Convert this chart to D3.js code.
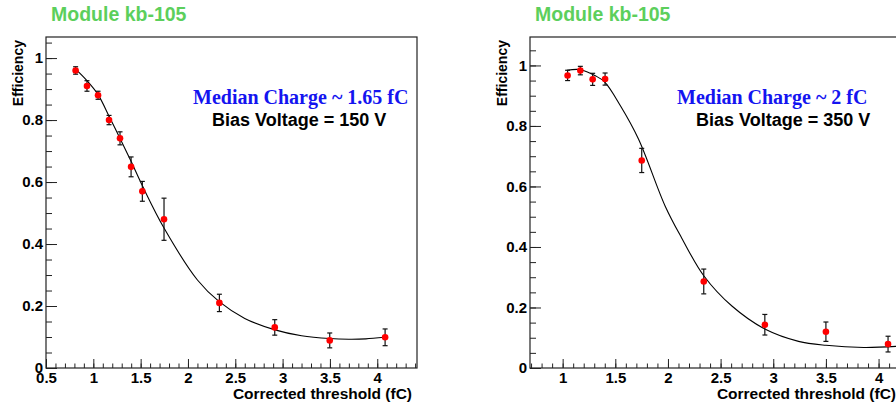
<!DOCTYPE html>
<html>
<head>
<meta charset="utf-8">
<script src="https://cdn.jsdelivr.net/npm/d3@7"></script>
<style>
  body { margin: 0; background: #fff; }
  svg text { font-family: "Liberation Sans", Arial, sans-serif; font-weight: bold; }
</style>
</head>
<body>
<div id="chart"></div>
<script>
// Panel 1 : bias 150 V
const leftThreshold = [0.813, 0.933, 1.05, 1.166, 1.282, 1.399, 1.518, 1.747, 2.332, 2.917, 3.498, 4.083];
const leftEff = [0.960, 0.910, 0.880, 0.800, 0.741, 0.649, 0.570, 0.480, 0.210, 0.131, 0.089, 0.099];
const leftErr = [0.012, 0.017, 0.013, 0.015, 0.021, 0.032, 0.032, 0.068, 0.028, 0.025, 0.024, 0.027];
const leftFitX = [0.81, 0.93, 1.05, 1.17, 1.28, 1.40, 1.52, 1.75, 2.10, 2.33, 2.60, 2.92, 3.20, 3.50, 3.70, 3.88, 4.08];
const leftFitY = [0.965, 0.928, 0.882, 0.81, 0.742, 0.666, 0.587, 0.45, 0.284, 0.214, 0.16, 0.123, 0.104, 0.095, 0.093, 0.094, 0.099];

// Panel 2 : bias 350 V
const rightThreshold = [1.047, 1.168, 1.285, 1.403, 1.751, 2.34, 2.92, 3.5, 4.09];
const rightEff = [0.967, 0.983, 0.954, 0.955, 0.686, 0.286, 0.143, 0.12, 0.079];
const rightErr = [0.017, 0.014, 0.02, 0.02, 0.04, 0.041, 0.034, 0.032, 0.026];
const rightFitX = [1.04, 1.17, 1.31, 1.40, 1.55, 1.72, 1.975, 2.13, 2.34, 2.61, 2.93, 3.24, 3.50, 3.86, 4.2];
const rightFitY = [0.984, 0.986, 0.966, 0.945, 0.866, 0.757, 0.534, 0.43, 0.305, 0.204, 0.127, 0.088, 0.075, 0.068, 0.072];

const leftXTicks = [0.5, 1, 1.5, 2, 2.5, 3, 3.5, 4];
const rightXTicks = [1, 1.5, 2, 2.5, 3, 3.5, 4];
const yTicks = [0, 0.2, 0.4, 0.6, 0.8, 1];

const title = "Module kb-105";
const xTitle = "Corrected threshold (fC)";
const yTitle = "Efficiency";

const width = 896;
const height = 405;

const svg = d3.select("#chart")
    .append("svg")
    .attr("width", width)
    .attr("height", height);

function drawPanel(p) {
    const x = d3.scaleLinear().domain(p.xDomain).range([p.left, p.right]);
    const y = d3.scaleLinear().domain(p.yDomain).range([p.bottom, p.top]);
    const g = svg.append("g");

    // title
    g.append("text")
        .attr("x", p.titleX)
        .attr("y", 21)
        .attr("fill", "#5ccf5c")
        .style("font-size", "19.5px")
        .text(title);

    // minor ticks
    const xMinor = d3.range(Math.ceil(p.xDomain[0] * 10), Math.floor(p.xDomain[1] * 10) + 1).map(d => d / 10);
    const yMinor = d3.range(0, Math.floor(p.yDomain[1] * 20) + 1).map(d => d / 20);

    g.append("g")
        .attr("transform", `translate(0,${p.bottom})`)
        .call(d3.axisBottom(x).tickValues(xMinor).tickSize(-4.5).tickFormat(""))
        .call(a => a.select(".domain").remove());
    g.append("g")
        .attr("transform", `translate(${p.left},0)`)
        .call(d3.axisLeft(y).tickValues(yMinor).tickSize(-6).tickFormat(""))
        .call(a => a.select(".domain").remove());

    // major ticks + labels
    g.append("g")
        .attr("transform", `translate(0,${p.bottom})`)
        .call(d3.axisBottom(x).tickValues(p.xTicks).tickSize(-9).tickPadding(4).tickFormat(d3.format("")))
        .call(a => a.select(".domain").remove());
    g.append("g")
        .attr("transform", `translate(${p.left},0)`)
        .call(d3.axisLeft(y).tickValues(yTicks).tickSize(-11).tickPadding(3).tickFormat(d3.format("")))
        .call(a => a.select(".domain").remove());

    g.selectAll(".tick line").attr("stroke", "#222");
    g.selectAll(".tick text")
        .attr("fill", "#000")
        .style("font-size", "15px")
        .style("font-family", "'Liberation Sans', Arial, sans-serif")
        .style("font-weight", "bold");

    // frame
    g.append("rect")
        .attr("x", p.left)
        .attr("y", p.top)
        .attr("width", p.right - p.left)
        .attr("height", p.bottom - p.top)
        .attr("fill", "none")
        .attr("stroke", "#222")
        .attr("stroke-width", 1.2);

    // axis titles
    g.append("text")
        .attr("x", p.right - 5)
        .attr("y", 399)
        .attr("text-anchor", "end")
        .style("font-size", "15.5px")
        .text(xTitle);
    g.append("text")
        .attr("transform", `translate(${p.left - 23},${p.top + 3}) rotate(-90)`)
        .attr("text-anchor", "end")
        .style("font-size", "14px")
        .text(yTitle);

    // fit curve
    const fit = p.fitX.map((d, i) => [d, p.fitY[i]]);
    g.append("path")
        .datum(fit)
        .attr("fill", "none")
        .attr("stroke", "#000")
        .attr("stroke-width", 1.1)
        .attr("d", d3.line().x(d => x(d[0])).y(d => y(d[1])).curve(d3.curveCatmullRom));

    // error bars
    const pts = p.xs.map((d, i) => ({ x: d, y: p.ys[i], e: p.es[i] }));
    const eb = g.append("g").attr("stroke", "#111").attr("stroke-width", 1.2);
    eb.selectAll("line.v").data(pts).enter().append("line")
        .attr("x1", d => x(d.x)).attr("x2", d => x(d.x))
        .attr("y1", d => y(d.y - d.e)).attr("y2", d => y(d.y + d.e));
    eb.selectAll("line.t").data(pts).enter().append("line")
        .attr("x1", d => x(d.x) - 2.5).attr("x2", d => x(d.x) + 2.5)
        .attr("y1", d => y(d.y + d.e)).attr("y2", d => y(d.y + d.e));
    eb.selectAll("line.b").data(pts).enter().append("line")
        .attr("x1", d => x(d.x) - 2.5).attr("x2", d => x(d.x) + 2.5)
        .attr("y1", d => y(d.y - d.e)).attr("y2", d => y(d.y - d.e));

    g.selectAll("circle").data(pts).enter().append("circle")
        .attr("cx", d => x(d.x))
        .attr("cy", d => y(d.y))
        .attr("r", 3.3)
        .attr("fill", "#ff0000");

    // labels
    g.append("text")
        .attr("x", p.medX)
        .attr("y", 104)
        .attr("fill", "#1414f0")
        .style("font-family", "'Liberation Serif', 'Times New Roman', serif")
        .style("font-size", "20px")
        .text(p.median);
    g.append("text")
        .attr("x", p.biasX)
        .attr("y", 126)
        .attr("fill", "#000")
        .style("font-size", "18px")
        .text(p.bias);
}

drawPanel({
    left: 46, right: 417, top: 37, bottom: 368,
    xDomain: [0.5, 4.42], yDomain: [0, 1.068],
    xTicks: leftXTicks, titleX: 51,
    xs: leftThreshold, ys: leftEff, es: leftErr,
    fitX: leftFitX, fitY: leftFitY,
    median: "Median Charge ~ 1.65 fC", medX: 193,
    bias: "Bias Voltage = 150 V", biasX: 212
});

drawPanel({
    left: 530, right: 901, top: 37, bottom: 368,
    xDomain: [0.69, 4.213], yDomain: [0, 1.094],
    xTicks: rightXTicks, titleX: 535,
    xs: rightThreshold, ys: rightEff, es: rightErr,
    fitX: rightFitX, fitY: rightFitY,
    median: "Median Charge ~ 2 fC", medX: 677,
    bias: "Bias Voltage = 350 V", biasX: 696
});
</script>
</body>
</html>
